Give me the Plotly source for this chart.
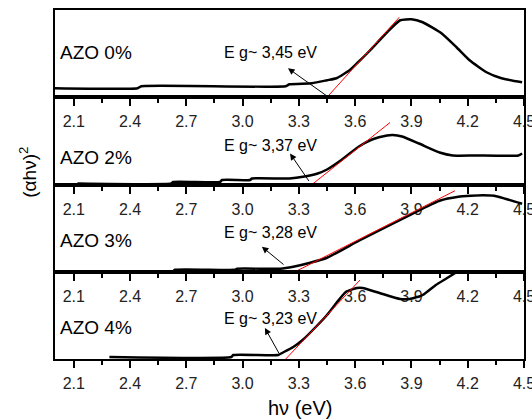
import plotly.graph_objects as go
from plotly.subplots import make_subplots

# ---------------- data ----------------
samples = ["AZO 0%", "AZO 2%", "AZO 3%", "AZO 4%"]

e_0 = [2.00, 2.44, 2.46, 3.23, 3.25, 3.37, 3.45, 3.50, 3.57, 3.61, 3.68, 3.77,
       3.84, 3.90, 3.96, 4.06, 4.14, 4.21, 4.30, 4.38, 4.49]
a_0 = [9, 9, 11, 11, 13, 14, 17, 19, 27, 34, 47, 65,
       77, 78, 75, 64, 50, 37, 25, 19, 15]

e_2 = [2.12, 2.62, 2.63, 2.88, 2.89, 3.04, 3.05, 3.25, 3.33, 3.40, 3.45, 3.53,
       3.62, 3.69, 3.77, 3.80, 3.85, 3.94, 4.05, 4.12, 4.24, 4.47, 4.49]
a_2 = [1, 1, 2.5, 2.5, 4.5, 4.5, 6, 6, 8, 11, 15, 25,
       38, 45, 49, 49.5, 48, 41, 32, 29, 29, 29, 31]

e_3 = [2.12, 2.63, 2.64, 2.96, 2.97, 3.20, 3.27, 3.36, 3.45, 3.62, 3.80, 3.98,
       4.05, 4.15, 4.22, 4.28, 4.34, 4.40, 4.49]
a_3 = [0.5, 0.5, 2, 2, 3, 3, 5, 9, 14, 31, 48, 65,
       71, 75, 76, 76.5, 76, 73, 68]

e_4 = [2.29, 2.94, 2.95, 3.19, 3.21, 3.27, 3.32, 3.39, 3.45, 3.50, 3.55, 3.61,
       3.64, 3.73, 3.84, 3.89, 3.96, 4.03, 4.09, 4.14, 4.20]
a_4 = [2, 2, 4, 4, 6, 12, 19, 32, 44, 56, 67, 71,
       71, 66, 60, 60, 64, 74, 81, 87, 96]

energies = [e_0, e_2, e_3, e_4]
absorb = [a_0, a_2, a_3, a_4]

# band gaps and linear-fit (tangent) end points
eg = [3.45, 3.37, 3.28, 3.23]
fit_end_e = [3.835, 3.786, 4.132, 3.626]
fit_end_a = [80, 62, 81, 79]

# arrow heads / tails (energy, value)
arrow_head_e = [3.242, 3.253, 3.103, 3.119]
arrow_head_a = [29, 31, 25, 31]
arrow_tail_e = [3.455, 3.359, 3.226, 3.199]
arrow_tail_a = [0.5, 2, 6, 4]

tick_vals = [2.1, 2.4, 2.7, 3.0, 3.3, 3.6, 3.9, 4.2, 4.5]

# ---------------- figure ----------------
FONT = "Arial, Liberation Sans, sans-serif"
fig = make_subplots(rows=4, cols=1, vertical_spacing=0)

for i in range(4):
    r = i + 1
    fig.add_trace(go.Scatter(x=energies[i], y=absorb[i], mode="lines",
                             line=dict(color="black", width=2.5, shape="spline", smoothing=0.5),
                             hoverinfo="skip"), row=r, col=1)
    fig.add_trace(go.Scatter(x=[eg[i], fit_end_e[i]], y=[0, fit_end_a[i]], mode="lines",
                             line=dict(color="red", width=1), hoverinfo="skip"), row=r, col=1)

fig.update_xaxes(range=[2.0, 4.5], tickvals=tick_vals, tickformat=".1f",
                 ticks="outside", ticklen=7, tickwidth=2, tickcolor="black",
                 showline=True, linewidth=2, linecolor="black", mirror=True,
                 showgrid=False, zeroline=False, ticklabeloverflow="allow",
                 ticklabelstandoff=2, automargin=False,
                 minor=dict(ticks="outside", ticklen=4, tickwidth=2, tickcolor="black",
                            tick0=2.25, dtick=0.3, showgrid=False),
                 tickfont=dict(family=FONT, size=16, color="#222"))
fig.update_yaxes(range=[0, 87.25], showticklabels=False, ticks="",
                 showline=True, linewidth=2, linecolor="black", mirror=True,
                 showgrid=False, zeroline=False, automargin=False)

label_y = [45, 27, 31, 32]
eg_y = [45, 39, 39, 41]
annotations = []
for i in range(4):
    xr = "x" if i == 0 else f"x{i+1}"
    yr = "y" if i == 0 else f"y{i+1}"
    annotations.append(dict(x=2.016, y=label_y[i], xref=xr, yref=yr, text=samples[i],
                            showarrow=False, xanchor="left", yanchor="middle",
                            font=dict(family=FONT, size=19, color="black")))
    annotations.append(dict(x=2.888, y=eg_y[i], xref=xr, yref=yr,
                            text="E g~ " + f"{eg[i]:.2f}".replace(".", ",") + " eV",
                            showarrow=False, xanchor="left", yanchor="middle",
                            font=dict(family=FONT, size=16, color="black")))
    annotations.append(dict(x=arrow_head_e[i], y=arrow_head_a[i], xref=xr, yref=yr,
                            ax=arrow_tail_e[i], ay=arrow_tail_a[i], axref=xr, ayref=yr,
                            text="", showarrow=True, arrowhead=2, arrowsize=1.3,
                            arrowwidth=1, arrowcolor="black", standoff=0, startstandoff=0))

annotations.append(dict(x=0.522, y=-0.14, xref="paper", yref="paper", text="hν (eV)",
                        showarrow=False, xanchor="center", yanchor="middle",
                        font=dict(family=FONT, size=20, color="black")))
annotations.append(dict(x=-0.058, y=0.536, xref="paper", yref="paper",
                        text="(αhν)<sup>2</sup>", textangle=-90,
                        showarrow=False, xanchor="center", yanchor="middle",
                        font=dict(family=FONT, size=19, color="black")))

fig.update_layout(width=532, height=420, margin=dict(l=55, r=8, t=10, b=61, autoexpand=False),
                  plot_bgcolor="white", paper_bgcolor="white", showlegend=False,
                  annotations=annotations)

fig.write_html("out.html")
